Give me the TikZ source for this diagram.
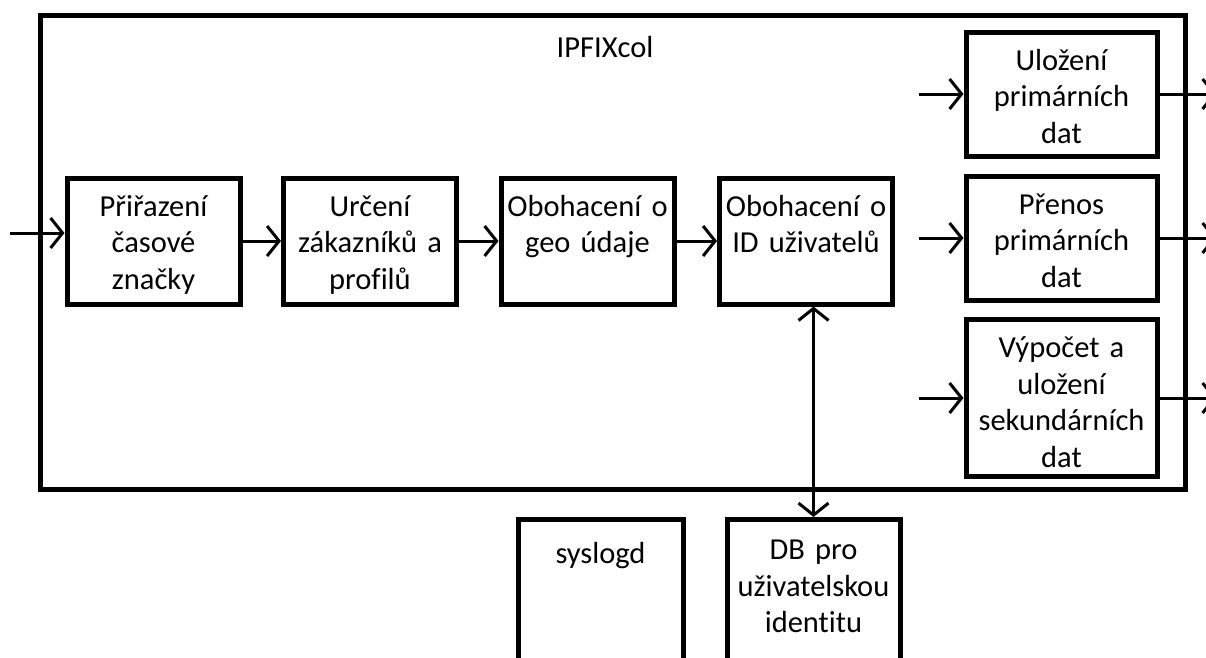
\documentclass[tikz,border=0pt]{standalone}
\usepackage{fontspec}
\setmainfont{Carlito}[Ligatures=NoCommon]
\usetikzlibrary{positioning,arrows.meta}

\tikzset{
  stage/.style={draw, line width=5pt, inner sep=0pt, align=center,
    text width=173pt, text height=38pt, text depth=#1,
    font=\fontsize{30.5}{36.5}\selectfont},
  stage/.default=88pt,
  flow/.style={line width=3pt, -{Straight Barb[length=12pt,width=30pt]}},
}

\begin{document}
\begin{tikzpicture}[x=1pt,y=-1pt]
\useasboundingbox (0,0) rectangle (1206,657);
% outer block
\node[draw, line width=5pt, minimum width=1145pt, minimum height=474pt] (col) at (612.5,252) {};
\node[font=\fontsize{30.5}{36.5}\selectfont] (title) at (605,47) {IPFIXcol};
% processing chain
\node[stage] (cas) at (153.5,241) {Přiřazení\\časové\\značky};
\node[stage] (zak) at (370,241) {Určení\\zákazníků a\\profilů};
\node[stage] (geo) at (587.5,241) {Obohacení o\\geo údaje};
\node[stage] (uid) at (806,241) {Obohacení o\\ID uživatelů};
% storage blocks
\node[stage=86pt, text width=191pt] (ulo) at (1061.5,94) {Uložení\\primárních\\dat};
\node[stage=86pt, text width=191pt] (pre) at (1061.5,238) {Přenos\\primárních\\dat};
\node[stage=119pt, text width=191pt] (sek) at (1061.5,398) {Výpočet a\\uložení\\sekundárních\\dat};
% external
\node[stage=150pt, text width=165pt, text height=44pt, anchor=north] (sys) at (600.5,517) {syslogd};
\node[stage=150pt, text width=173pt, text height=40pt, anchor=north] (db) at (813.5,517) {DB pro\\uživatelskou\\identitu};
% connectors
\coordinate (in) at (10,233);
\draw[flow] (in) -- (in -| cas.west);
\draw[flow] (cas) -- (zak);
\draw[flow] (zak) -- (geo);
\draw[flow] (geo) -- (uid);
\draw[line width=3pt, {Straight Barb[length=12pt,width=30pt]}-{Straight Barb[length=12pt,width=30pt]}]
  (db.north |- uid.south) -- (db.north);
\foreach \b in {ulo,pre,sek} {
  \coordinate (\b in) at ([xshift=-45pt]\b.west);
  \coordinate (\b out) at ([xshift=57pt]\b.east);
  \draw[flow] (\b in) -- (\b);
  \draw[flow] (\b) -- (\b out);
}
\end{tikzpicture}
\end{document}
